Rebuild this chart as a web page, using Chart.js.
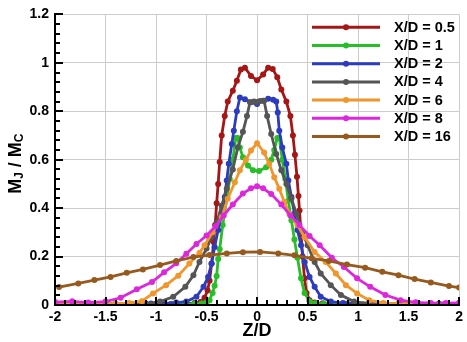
<!DOCTYPE html>
<html>
<head>
<meta charset="utf-8">
<script src="https://cdn.jsdelivr.net/npm/chart.js@4.4.0/dist/chart.umd.min.js"></script>
<style>
html,body{margin:0;padding:0;background:#fff;}
canvas{display:block;}
</style>
</head>
<body>
<canvas id="c" width="467" height="342"></canvas>
<script>
// ---- data ----
const seriesNames = ['X/D = 0.5','X/D = 1','X/D = 2','X/D = 4','X/D = 6','X/D = 8','X/D = 16'];

const z_05 = [-2,-1.8,-1.6,-1.4,-1.2,-1.0,-0.85,-0.72,-0.62,-0.56,-0.52,-0.49,-0.47,-0.45,-0.43,-0.415,-0.40,-0.385,-0.37,-0.35,-0.32,-0.29,-0.24,-0.2,-0.16,-0.12,-0.06,0,0.06,0.11,0.155,0.2,0.24,0.29,0.33,0.355,0.375,0.395,0.41,0.42,0.435,0.45,0.47,0.49,0.52,0.57,0.65,0.75,0.88,1.0,1.2,1.4,1.6,1.8,2];
const m_05 = [0.004,0.004,0.004,0.004,0.004,0.005,0.005,0.006,0.008,0.012,0.03,0.06,0.1,0.17,0.26,0.33,0.42,0.5,0.59,0.70,0.78,0.84,0.885,0.926,0.972,0.98,0.946,0.928,0.952,0.98,0.975,0.94,0.89,0.84,0.78,0.70,0.62,0.53,0.45,0.39,0.3,0.2,0.11,0.05,0.02,0.01,0.007,0.005,0.005,0.004,0.004,0.004,0.004,0.004,0.004];

const z_1 = [-2,-1.8,-1.6,-1.4,-1.2,-1.0,-0.85,-0.72,-0.62,-0.55,-0.50,-0.47,-0.44,-0.42,-0.40,-0.385,-0.37,-0.34,-0.30,-0.27,-0.24,-0.21,-0.19,-0.17,-0.14,-0.09,-0.04,0.02,0.09,0.14,0.17,0.2,0.22,0.25,0.28,0.31,0.34,0.37,0.40,0.435,0.47,0.52,0.58,0.66,0.78,0.9,1.05,1.2,1.4,1.6,1.8,2];
const m_1 = [0.003,0.003,0.003,0.003,0.003,0.003,0.004,0.004,0.005,0.006,0.01,0.02,0.05,0.08,0.12,0.19,0.23,0.33,0.44,0.52,0.60,0.69,0.69,0.65,0.61,0.576,0.556,0.553,0.569,0.60,0.64,0.69,0.69,0.60,0.52,0.43,0.35,0.27,0.195,0.11,0.05,0.015,0.007,0.005,0.004,0.004,0.003,0.003,0.003,0.003,0.003,0.003];

const z_2 = [-2,-1.8,-1.6,-1.4,-1.2,-1.05,-0.92,-0.8,-0.7,-0.6,-0.53,-0.485,-0.45,-0.42,-0.385,-0.35,-0.32,-0.30,-0.28,-0.25,-0.23,-0.2,-0.17,-0.12,-0.06,0,0.06,0.11,0.16,0.19,0.205,0.22,0.25,0.29,0.31,0.34,0.37,0.40,0.435,0.47,0.52,0.57,0.63,0.73,0.85,0.98,1.1,1.25,1.4,1.6,1.8,2];
const m_2 = [0.004,0.004,0.004,0.004,0.005,0.006,0.007,0.01,0.014,0.034,0.075,0.116,0.171,0.24,0.31,0.377,0.446,0.514,0.583,0.665,0.72,0.80,0.857,0.85,0.837,0.83,0.843,0.852,0.848,0.84,0.795,0.72,0.65,0.583,0.514,0.446,0.377,0.31,0.247,0.178,0.116,0.075,0.034,0.014,0.008,0.006,0.005,0.004,0.004,0.004,0.004,0.004];

const z_4 = [-2,-1.8,-1.6,-1.4,-1.25,-1.1,-0.96,-0.83,-0.71,-0.63,-0.57,-0.5,-0.45,-0.40,-0.35,-0.30,-0.24,-0.19,-0.14,-0.1,-0.07,-0.03,0.0,0.03,0.07,0.1,0.14,0.19,0.24,0.29,0.34,0.39,0.45,0.5,0.57,0.63,0.73,0.83,0.96,1.1,1.25,1.4,1.6,1.8,2];
const m_4 = [0.004,0.004,0.004,0.004,0.005,0.006,0.014,0.034,0.075,0.123,0.178,0.233,0.281,0.34,0.41,0.48,0.56,0.651,0.715,0.78,0.837,0.84,0.838,0.842,0.843,0.78,0.706,0.624,0.556,0.50,0.44,0.377,0.30,0.247,0.178,0.13,0.082,0.041,0.014,0.006,0.005,0.004,0.004,0.004,0.004];

const z_6 = [-2,-1.85,-1.7,-1.55,-1.4,-1.27,-1.14,-1.03,-0.9,-0.78,-0.67,-0.57,-0.52,-0.44,-0.35,-0.29,-0.22,-0.17,-0.11,-0.06,0,0.07,0.12,0.17,0.22,0.27,0.32,0.40,0.47,0.57,0.68,0.78,0.88,0.99,1.11,1.25,1.4,1.55,1.7,1.85,2];
const m_6 = [0.005,0.005,0.005,0.005,0.006,0.008,0.016,0.048,0.082,0.121,0.171,0.215,0.247,0.3,0.363,0.439,0.507,0.556,0.6,0.638,0.668,0.63,0.583,0.528,0.48,0.425,0.377,0.33,0.281,0.219,0.178,0.13,0.082,0.048,0.02,0.008,0.006,0.005,0.005,0.005,0.005];

const z_8 = [-2,-1.83,-1.67,-1.5,-1.35,-1.19,-1.04,-0.92,-0.8,-0.7,-0.6,-0.5,-0.41,-0.33,-0.24,-0.14,-0.06,0,0.06,0.14,0.24,0.33,0.42,0.52,0.62,0.74,0.86,0.99,1.12,1.27,1.42,1.57,1.72,1.87,2];
const m_8 = [0.012,0.015,0.01,0.014,0.03,0.065,0.095,0.135,0.172,0.212,0.252,0.287,0.325,0.37,0.415,0.46,0.482,0.49,0.482,0.458,0.415,0.37,0.33,0.285,0.247,0.195,0.157,0.11,0.075,0.041,0.02,0.011,0.008,0.008,0.009];

const z_16 = [-1.96,-1.77,-1.61,-1.45,-1.29,-1.13,-0.96,-0.80,-0.63,-0.47,-0.30,-0.14,0.03,0.21,0.37,0.54,0.71,0.89,1.07,1.24,1.40,1.56,1.72,1.90,2.0];
const m_16 = [0.074,0.089,0.103,0.116,0.133,0.147,0.165,0.182,0.198,0.206,0.213,0.218,0.219,0.213,0.205,0.193,0.182,0.167,0.154,0.137,0.123,0.107,0.093,0.078,0.072];

const xTickValues = [-2,-1.5,-1,-0.5,0,0.5,1,1.5,2];
const xTickLabels = ['-2','-1.5','-1','-0.5','0','0.5','1','1.5','2'];
const yTickValues = [0,0.2,0.4,0.6,0.8,1,1.2];
const yTickLabels = ['0','0.2','0.4','0.6','0.8','1','1.2'];

// ---- styling ----
const colors = ['rgb(165,22,22)','rgb(40,190,40)','rgb(45,60,190)','rgb(85,85,85)','rgb(240,150,45)','rgb(220,40,220)','rgb(150,90,30)'];
const zs = [z_05,z_1,z_2,z_4,z_6,z_8,z_16];
const ms = [m_05,m_1,m_2,m_4,m_6,m_8,m_16];
const FONT = "'Liberation Sans', Arial, sans-serif";

const datasets = seriesNames.map((name,i)=>{
  const n = Math.min(zs[i].length, ms[i].length);
  const pts = [];
  for (let k=0;k<n;k++) pts.push({x: zs[i][k], y: ms[i][k]});
  return {
    label: name, data: pts,
    borderColor: colors[i], backgroundColor: colors[i],
    pointBackgroundColor: colors[i], pointBorderColor: colors[i],
    borderWidth: 2.8, pointRadius: 3, pointBorderWidth: 0, pointHoverRadius: 3,
    tension: 0, order: seriesNames.length - i
  };
});

const decor = {
  id: 'decor',
  afterDraw(chart){
    const ctx = chart.ctx, ca = chart.chartArea, xs = chart.scales.x, ys = chart.scales.y;
    ctx.save();
    // axis lines
    ctx.strokeStyle = '#000'; ctx.lineWidth = 2;
    ctx.beginPath();
    ctx.moveTo(ca.left, ca.top); ctx.lineTo(ca.left, ca.bottom); ctx.lineTo(ca.right, ca.bottom);
    ctx.stroke();
    // inward ticks
    ctx.lineWidth = 2;
    for (let i=0;i<=40;i++){
      const v = -2 + i*0.1, px = Math.round(xs.getPixelForValue(v));
      const len = (i%5===0) ? 8 : 5;
      ctx.beginPath(); ctx.moveTo(px, ca.bottom); ctx.lineTo(px, ca.bottom-len); ctx.stroke();
    }
    for (let i=0;i<=30;i++){
      const v = i*0.04, py = Math.round(ys.getPixelForValue(v));
      const len = (i%5===0) ? 8 : 5;
      ctx.beginPath(); ctx.moveTo(ca.left, py); ctx.lineTo(ca.left+len, py); ctx.stroke();
    }
    // y-axis title with subscripts
    const parts = [['M',18,0],['J',12,4],[' / M',18,0],['C',12,4]];
    let total = 0;
    parts.forEach(p=>{ ctx.font = 'bold '+p[1]+'px '+FONT; total += ctx.measureText(p[0]).width; });
    ctx.translate(16, (ca.top+ca.bottom)/2 + 4);
    ctx.rotate(-Math.PI/2);
    ctx.fillStyle = '#000'; ctx.textBaseline = 'middle'; ctx.textAlign = 'left';
    let x = -total/2;
    parts.forEach(p=>{
      ctx.font = 'bold '+p[1]+'px '+FONT;
      ctx.fillText(p[0], x, p[2]);
      x += ctx.measureText(p[0]).width;
    });
    ctx.restore();
    // legend
    ctx.save();
    chart.data.datasets.forEach((ds,i)=>{
      const y = 27.3 + i*18.2;
      ctx.strokeStyle = ds.borderColor; ctx.lineWidth = 3;
      ctx.beginPath(); ctx.moveTo(312, y); ctx.lineTo(380, y); ctx.stroke();
      ctx.fillStyle = ds.borderColor;
      ctx.beginPath(); ctx.arc(346, y, 3, 0, Math.PI*2); ctx.fill();
      ctx.fillStyle = '#000'; ctx.font = 'bold 14.5px '+FONT;
      ctx.textBaseline = 'middle'; ctx.textAlign = 'left';
      ctx.fillText(ds.label, 394, y+0.5);
    });
    ctx.restore();
  }
};

new Chart(document.getElementById('c'), {
  type: 'line',
  data: { datasets },
  options: {
    responsive: false, animation: false, events: [],
    layout: { padding: { top: 13, right: 7, left: 0, bottom: 0 } },
    plugins: { legend: { display: false }, tooltip: { enabled: false } },
    scales: {
      x: {
        type: 'linear', min: -2, max: 2,
        afterBuildTicks: s => { s.ticks = xTickValues.map(v => ({ value: v })); },
        afterFit: s => { s.height = 37; },
        ticks: { callback: (v, i) => xTickLabels[i], color: '#000', padding: 4, maxRotation: 0, autoSkip: false,
                 font: { family: FONT, size: 14, weight: 'bold' } },
        grid: { color: '#cccccc', lineWidth: 1, drawTicks: false },
        border: { display: true, color: '#000', width: 2 },
        title: { display: true, text: 'Z/D', color: '#000', padding: { top: 0, bottom: 0 },
                 font: { family: FONT, size: 18, weight: 'bold' } }
      },
      y: {
        type: 'linear', min: 0, max: 1.2,
        afterBuildTicks: s => { s.ticks = yTickValues.map(v => ({ value: v })); },
        afterFit: s => { s.width = 55; },
        ticks: { callback: (v, i) => yTickLabels[i], color: '#000', padding: 6,
                 font: { family: FONT, size: 14, weight: 'bold' } },
        grid: { color: '#cccccc', lineWidth: 1, drawTicks: false },
        border: { display: true, color: '#000', width: 2 }
      }
    }
  },
  plugins: [decor]
});
</script>
</body>
</html>
